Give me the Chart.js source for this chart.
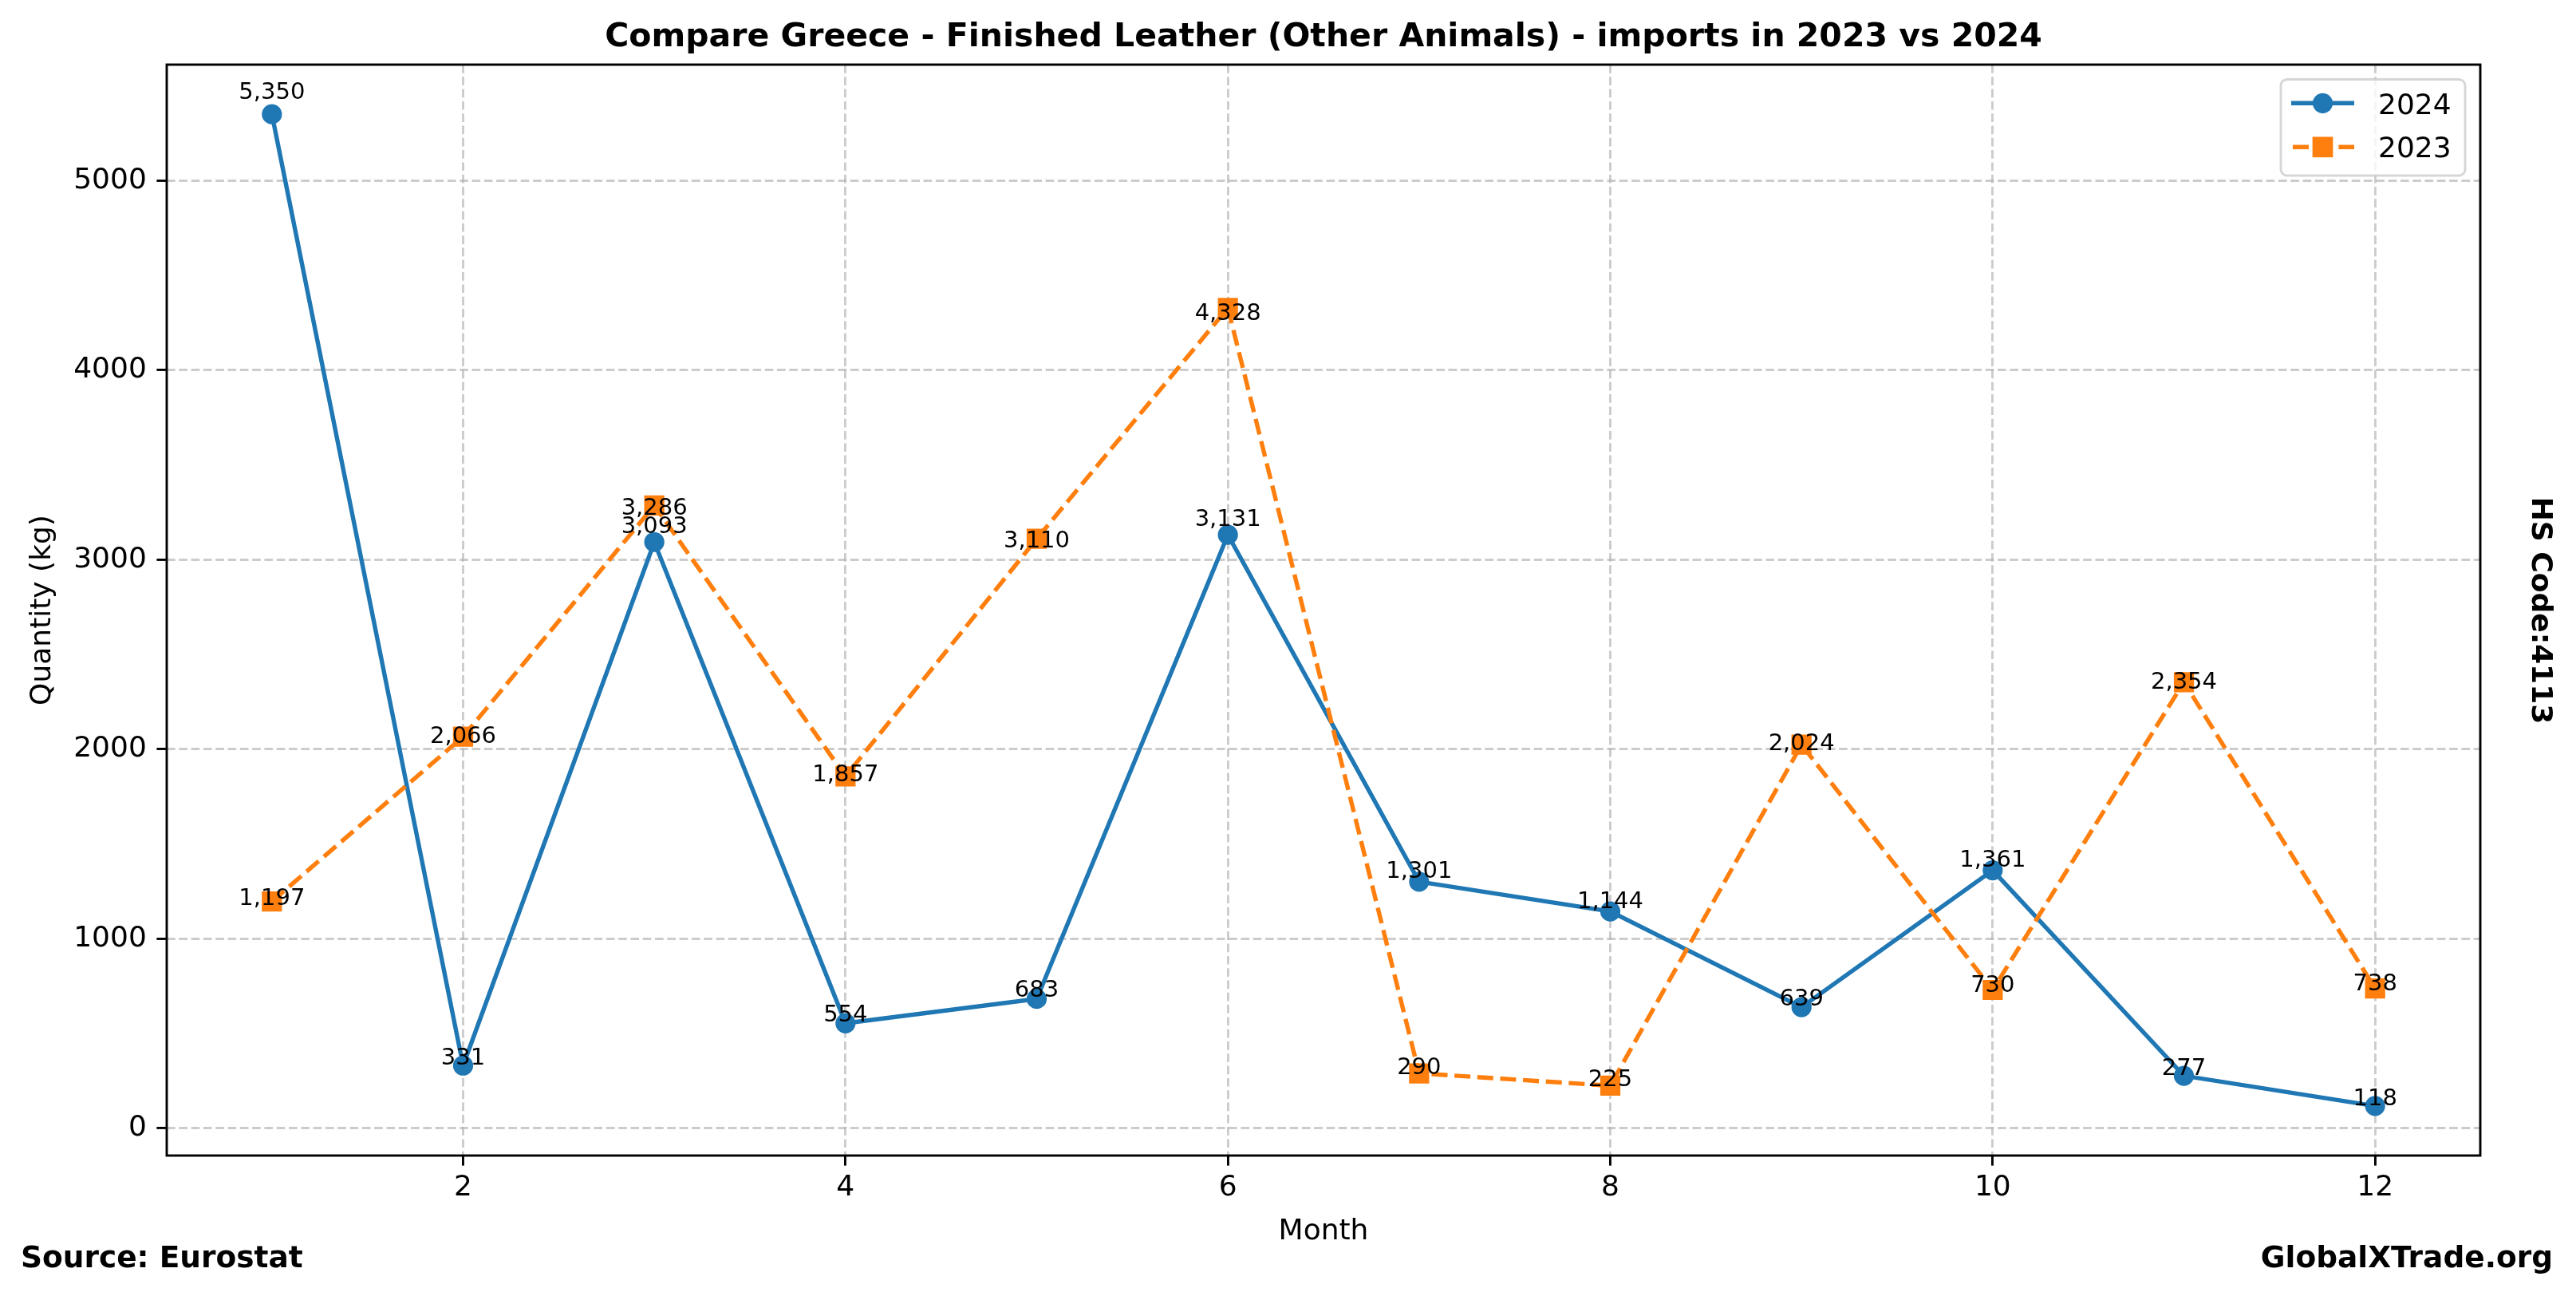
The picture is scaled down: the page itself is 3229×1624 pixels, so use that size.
<!DOCTYPE html>
<html><head><meta charset="utf-8">
<script src="https://cdn.jsdelivr.net/npm/chart.js@4/dist/chart.umd.min.js"></script>
<style>html,body{margin:0;padding:0;background:#fff;}canvas{display:block;}</style>
</head><body>
<canvas id="c" width="3229" height="1624" style="width:3229px;height:1624px"></canvas>
<script>
const months = [1,2,3,4,5,6,7,8,9,10,11,12];
const values2024 = [5350,331,3093,554,683,3131,1301,1144,639,1361,277,118];
const values2023 = [1197,2066,3286,1857,3110,4328,290,225,2024,730,2354,738];
const xTicks = [2,4,6,8,10,12];
const yTicks = [0,1000,2000,3000,4000,5000];
const seriesNames = ['2024','2023'];
const titleText = 'Compare Greece - Finished Leather (Other Animals) - imports in 2023 vs 2024';
const xLabel = 'Month';
const yLabel = 'Quantity (kg)';
const sourceText = 'Source: Eurostat';
const siteText = 'GlobalXTrade.org';
const hsText = 'HS Code:4113';

const BLUE = '#1f77b4', ORANGE = '#ff7f0e';
const FONT = '"DejaVu Sans", "Liberation Sans", sans-serif';
Chart.defaults.font.family = FONT;
Chart.defaults.color = '#000';

const overlay = {
  id: 'overlay',
  afterDatasetsDraw(chart) {
    const ctx = chart.ctx, a = chart.chartArea;
    const xs = chart.scales.x, ys = chart.scales.y;
    ctx.save();
    // data labels
    ctx.font = '29px ' + FONT;
    ctx.fillStyle = '#000';
    ctx.textAlign = 'center';
    ctx.textBaseline = 'alphabetic';
    months.forEach((m, i) => {
      ctx.fillText(values2024[i].toLocaleString('en-US'), xs.getPixelForValue(m), ys.getPixelForValue(values2024[i] * 1.015));
    });
    months.forEach((m, i) => {
      ctx.fillText(values2023[i].toLocaleString('en-US'), xs.getPixelForValue(m), ys.getPixelForValue(values2023[i] * 0.985));
    });
    // frame
    ctx.strokeStyle = '#000';
    ctx.lineWidth = 2.9;
    ctx.setLineDash([]);
    ctx.strokeRect(a.left, a.top, a.right - a.left, a.bottom - a.top);

    // legend
    const bx = 2859, by = 99.5, bw = 231, bh = 120.5, r = 8;
    ctx.beginPath();
    ctx.moveTo(bx + r, by);
    ctx.arcTo(bx + bw, by, bx + bw, by + bh, r);
    ctx.arcTo(bx + bw, by + bh, bx, by + bh, r);
    ctx.arcTo(bx, by + bh, bx, by, r);
    ctx.arcTo(bx, by, bx + bw, by, r);
    ctx.closePath();
    ctx.fillStyle = 'rgba(255,255,255,0.8)';
    ctx.fill();
    ctx.strokeStyle = 'rgba(204,204,204,0.8)';
    ctx.lineWidth = 2.9;
    ctx.stroke();

    const lx0 = 2872, lx1 = 2951, mx = 2911.5;
    const rows = [129.3, 184.3];
    // 2024
    ctx.strokeStyle = BLUE; ctx.fillStyle = BLUE; ctx.lineWidth = 5.4; ctx.lineCap = 'butt';
    ctx.beginPath(); ctx.moveTo(lx0, rows[0]); ctx.lineTo(lx1, rows[0]); ctx.stroke();
    ctx.beginPath(); ctx.arc(mx, rows[0], 12.6, 0, Math.PI * 2); ctx.fill();
    // 2023
    ctx.strokeStyle = ORANGE; ctx.fillStyle = ORANGE;
    ctx.setLineDash([20, 8.7]);
    ctx.beginPath(); ctx.moveTo(lx0 + 2, rows[1]); ctx.lineTo(lx1, rows[1]); ctx.stroke();
    ctx.setLineDash([]);
    ctx.fillRect(mx - 12.85, rows[1] - 12.85, 25.7, 25.7);
    ctx.fillStyle = '#000';
    ctx.font = '36px ' + FONT;
    ctx.textAlign = 'left';
    ctx.fillText(seriesNames[0], 2981, 142.7);
    ctx.fillText(seriesNames[1], 2981, 197.3);
    ctx.restore();
  },
  afterDraw(chart) {
    const ctx = chart.ctx, a = chart.chartArea;
    const cx = (a.left + a.right) / 2, cy = (a.top + a.bottom) / 2;
    ctx.save();
    ctx.fillStyle = '#000';
    ctx.textBaseline = 'alphabetic';
    // title
    ctx.font = 'bold 41px ' + FONT;
    ctx.textAlign = 'center';
    ctx.fillText(titleText, cx, 58);
    // x label
    ctx.font = '36px ' + FONT;
    ctx.fillText(xLabel, cx, 1553);
    // y label
    ctx.save();
    ctx.translate(63, cy);
    ctx.rotate(-Math.PI / 2);
    ctx.fillText(yLabel, 0, 0);
    ctx.restore();
    // source / site
    ctx.font = 'bold 37.5px ' + FONT;
    ctx.textAlign = 'left';
    ctx.fillText(sourceText, 26, 1588);
    ctx.textAlign = 'right';
    ctx.fillText(siteText, 3200, 1588);
    // HS code
    ctx.font = 'bold 36px ' + FONT;
    ctx.save();
    ctx.translate(3174, 765);
    ctx.rotate(Math.PI / 2);
    ctx.textAlign = 'center';
    ctx.fillText(hsText, 0, 0);
    ctx.restore();
    ctx.restore();
  }
};

const gridColor = 'rgba(176,176,176,0.65)';
new Chart(document.getElementById('c'), {
  type: 'line',
  data: {
    datasets: [
      {
        label: seriesNames[0],
        data: months.map((m, i) => ({x: m, y: values2024[i]})),
        borderColor: BLUE, backgroundColor: BLUE,
        borderWidth: 5.4, tension: 0, fill: false,
        pointStyle: 'circle', pointRadius: 10.8, pointBorderWidth: 3.6,
        pointBackgroundColor: BLUE, pointBorderColor: BLUE,
        order: 1
      },
      {
        label: seriesNames[1],
        data: months.map((m, i) => ({x: m, y: values2023[i]})),
        borderColor: ORANGE, backgroundColor: ORANGE,
        borderWidth: 5.4, borderDash: [20, 8.7], tension: 0, fill: false,
        pointStyle: 'rect', pointRadius: 15.3, pointBorderWidth: 3.6,
        pointBackgroundColor: ORANGE, pointBorderColor: ORANGE,
        order: 0
      }
    ]
  },
  options: {
    responsive: false,
    animation: false,
    devicePixelRatio: 1,
    layout: {padding: {top: 81, right: 120, bottom: 0, left: 0}},
    plugins: {legend: {display: false}, title: {display: false}, tooltip: {enabled: false}},
    scales: {
      x: {
        type: 'linear', position: 'bottom', min: 0.45, max: 12.55,
        afterFit: s => { s.height = 176; },
        afterBuildTicks: s => { s.ticks = xTicks.map(v => ({value: v})); },
        ticks: {callback: v => String(v), font: {size: 36, lineHeight: 1}, padding: 10, maxRotation: 0, autoSkip: false, color: '#000'},
        grid: {color: gridColor, lineWidth: 2.9, drawTicks: true, tickLength: 12.6, tickColor: '#000', tickWidth: 2.9, tickBorderDash: []},
        border: {display: false, dash: [10.7, 4.6]}
      },
      y: {
        type: 'linear', position: 'left', min: -143.6, max: 5611.6,
        afterFit: s => { s.width = 209; },
        afterBuildTicks: s => { s.ticks = yTicks.map(v => ({value: v})); },
        ticks: {callback: v => String(v), font: {size: 36}, padding: 12.6, align: 'near', autoSkip: false, color: '#000'},
        grid: {color: gridColor, lineWidth: 2.9, drawTicks: true, tickLength: 12.6, tickColor: '#000', tickWidth: 2.9, tickBorderDash: []},
        border: {display: false, dash: [10.7, 4.6]}
      }
    }
  },
  plugins: [overlay]
});
</script>
</body></html>
